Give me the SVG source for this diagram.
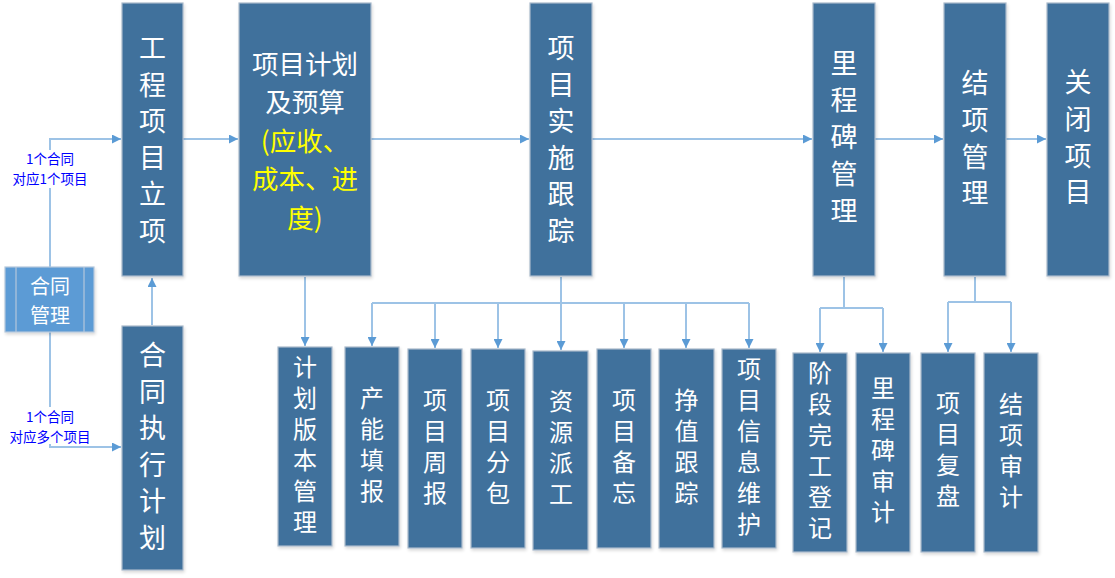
<svg xmlns="http://www.w3.org/2000/svg" width="1115" height="578" viewBox="0 0 1115 578">
<style>
.box{fill:#41719C;stroke:#A9BACB;stroke-width:1.2}
.ctr{fill:#5B9BD5;stroke:#B4C7DC;stroke-width:1.2}
.t{font-family:"Noto Sans CJK SC","Noto Sans",sans-serif;fill:#FFFFFF;text-anchor:middle;dominant-baseline:central}
.v{font-family:"Noto Sans CJK SC","Noto Sans",sans-serif;fill:#FFFFFF;writing-mode:vertical-rl;text-anchor:start}
.vb{font-size:27px;letter-spacing:9.5px}
.vs{font-size:24px;letter-spacing:7px}
.big{font-size:26.5px}
.mid{font-size:20px}
.yl{fill:#FFFF00}
.lbl{font-family:"Noto Sans CJK SC","Noto Sans",sans-serif;font-size:13.5px;fill:#0000FF;text-anchor:middle;dominant-baseline:central}
.c{fill:none;stroke:#9DC3E6;stroke-width:2}
</style>
<defs>
<marker id="ah" viewBox="0 0 10 10" refX="10" refY="5" markerWidth="9" markerHeight="9" markerUnits="userSpaceOnUse" orient="auto">
<path d="M0,0 L10,5 L0,10 z" fill="#5B9BD5"/>
</marker>
<filter id="sh" x="-10%" y="-10%" width="130%" height="130%">
<feDropShadow dx="1" dy="2" stdDeviation="1.5" flood-color="#000000" flood-opacity="0.15"/>
</filter>
</defs>
<rect width="1115" height="578" fill="#FFFFFF"/>

<g id="connectors">
<path class="c" d="M50,267 V139 H121" marker-end="url(#ah)"/>
<path class="c" d="M50,332 V447 H121" marker-end="url(#ah)"/>
<path class="c" d="M152,325 V278" marker-end="url(#ah)"/>
<path class="c" d="M183,139 H238" marker-end="url(#ah)"/>
<path class="c" d="M371,139 H529" marker-end="url(#ah)"/>
<path class="c" d="M592,139 H812" marker-end="url(#ah)"/>
<path class="c" d="M875,139 H943" marker-end="url(#ah)"/>
<path class="c" d="M1006,139 H1046" marker-end="url(#ah)"/>
<path class="c" d="M305,277 V346" marker-end="url(#ah)"/>
<path class="c" d="M561,277 V303 M372,303 H749"/>
<path class="c" d="M372,303 V346" marker-end="url(#ah)"/>
<path class="c" d="M435,303 V348" marker-end="url(#ah)"/>
<path class="c" d="M498,303 V348" marker-end="url(#ah)"/>
<path class="c" d="M561,303 V350" marker-end="url(#ah)"/>
<path class="c" d="M624,303 V348" marker-end="url(#ah)"/>
<path class="c" d="M686,303 V348" marker-end="url(#ah)"/>
<path class="c" d="M749,303 V348" marker-end="url(#ah)"/>
<path class="c" d="M844,277 V308 M820,308 H883"/>
<path class="c" d="M820,308 V352" marker-end="url(#ah)"/>
<path class="c" d="M883,308 V352" marker-end="url(#ah)"/>
<path class="c" d="M975,277 V302 M948,302 H1011"/>
<path class="c" d="M948,302 V352" marker-end="url(#ah)"/>
<path class="c" d="M1011,302 V352" marker-end="url(#ah)"/>
<rect x="6" y="150" width="88" height="38" fill="#FFFFFF"/>
<text class="lbl" x="50" y="158">1个合同</text>
<text class="lbl" x="50" y="178">对应1个项目</text>
<rect x="6" y="407" width="88" height="37" fill="#FFFFFF"/>
<text class="lbl" x="50" y="416">1个合同</text>
<text class="lbl" x="50" y="436">对应多个项目</text>
</g>

<g id="contract">
<rect class="ctr" x="5" y="267" width="89" height="65" filter="url(#sh)"/>
<path d="M16,267 V332 M84,267 V332" stroke="#B4C7DC" stroke-width="1.2"/>
<text class="t mid" x="50" y="285">合同</text>
<text class="t mid" x="50" y="314">管理</text>
</g>

<g id="n-lixiang">
<rect class="box" x="122" y="3" width="61" height="273" filter="url(#sh)"/>
<text class="v vb" x="152.5" y="34.5">工程项目立项</text>
</g>

<g id="n-zhixing">
<rect class="box" x="122" y="326" width="61" height="244" filter="url(#sh)"/>
<text class="v vb" x="152.5" y="341.5">合同执行计划</text>
</g>

<g id="n-jihua">
<rect class="box" x="239" y="3" width="132" height="273" filter="url(#sh)"/>
<text class="t big" x="305" y="62">项目计划</text>
<text class="t big" x="305" y="100.5">及预算</text>
<text class="t big yl" x="305" y="139">(应收、</text>
<text class="t big yl" x="305" y="177.5">成本、进</text>
<text class="t big yl" x="305" y="216">度)</text>
</g>

<g id="n-shishi">
<rect class="box" x="530" y="3" width="62" height="273" filter="url(#sh)"/>
<text class="v vb" x="561" y="34.5">项目实施跟踪</text>
</g>

<g id="n-lichengbei">
<rect class="box" x="813" y="3" width="62" height="273" filter="url(#sh)"/>
<text class="v vb" x="844" y="49.5" style="letter-spacing:10px">里程碑管理</text>
</g>

<g id="n-jiexiang">
<rect class="box" x="944" y="3" width="62" height="273" filter="url(#sh)"/>
<text class="v vb" x="975" y="69.5" style="letter-spacing:9.7px">结项管理</text>
</g>

<g id="n-guanbi">
<rect class="box" x="1047" y="3" width="62" height="273" filter="url(#sh)"/>
<text class="v vb" x="1078" y="68.5" style="letter-spacing:9.7px">关闭项目</text>
</g>

<g id="s-banben">
<rect class="box" x="278" y="347" width="54" height="199" filter="url(#sh)"/>
<text class="v vs" x="305" y="355">计划版本管理</text>
</g>

<g id="s-channeng">
<rect class="box" x="345" y="347" width="54" height="199" filter="url(#sh)"/>
<text class="v vs" x="372" y="386">产能填报</text>
</g>

<g id="s-zhoubao">
<rect class="box" x="408" y="349" width="54" height="199" filter="url(#sh)"/>
<text class="v vs" x="435" y="388">项目周报</text>
</g>

<g id="s-fenbao">
<rect class="box" x="471" y="349" width="54" height="199" filter="url(#sh)"/>
<text class="v vs" x="498" y="388">项目分包</text>
</g>

<g id="s-paigong">
<rect class="box" x="533" y="351" width="55" height="199" filter="url(#sh)"/>
<text class="v vs" x="561" y="389">资源派工</text>
</g>

<g id="s-beiwang">
<rect class="box" x="597" y="349" width="54" height="199" filter="url(#sh)"/>
<text class="v vs" x="624" y="388">项目备忘</text>
</g>

<g id="s-zhengzhi">
<rect class="box" x="659" y="349" width="55" height="199" filter="url(#sh)"/>
<text class="v vs" x="686.5" y="388">挣值跟踪</text>
</g>

<g id="s-xinxi">
<rect class="box" x="722" y="349" width="54" height="199" filter="url(#sh)"/>
<text class="v vs" x="749" y="357">项目信息维护</text>
</g>

<g id="s-wangong">
<rect class="box" x="793" y="353" width="54" height="199" filter="url(#sh)"/>
<text class="v vs" x="820" y="361">阶段完工登记</text>
</g>

<g id="s-lcbsj">
<rect class="box" x="856" y="353" width="54" height="199" filter="url(#sh)"/>
<text class="v vs" x="883" y="376">里程碑审计</text>
</g>

<g id="s-fupan">
<rect class="box" x="921" y="353" width="54" height="199" filter="url(#sh)"/>
<text class="v vs" x="948" y="391">项目复盘</text>
</g>

<g id="s-jxsj">
<rect class="box" x="984" y="353" width="54" height="199" filter="url(#sh)"/>
<text class="v vs" x="1011" y="392">结项审计</text>
</g>
</svg>
